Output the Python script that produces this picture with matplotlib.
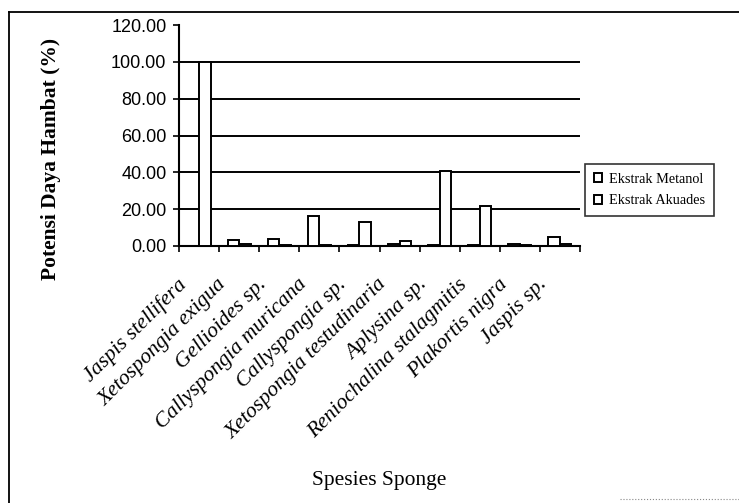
import matplotlib
matplotlib.use("Agg")
import matplotlib.pyplot as plt
import numpy as np
from matplotlib.lines import Line2D
from matplotlib.transforms import ScaledTranslation

# --------- Data ---------
species = [
    "Jaspis stellifera",
    "Xetospongia exigua",
    "Gellioides sp.",
    "Callyspongia muricana",
    "Callyspongia sp.",
    "Xetospongia testudinaria",
    "Aplysina sp.",
    "Reniochalina stalagmitis",
    "Plakortis nigra",
    "Jaspis sp.",
]
metanol = [0.0, 3.0, 4.0, 16.4, 0.5, 1.0, 0.5, 0.5, 1.2, 4.8]
akuades = [100.0, 1.0, 0.3, 0.3, 13.1, 2.5, 40.5, 21.5, 0.3, 1.2]
y_ticks = [0, 20, 40, 60, 80, 100, 120]

W, H = 739, 503
fig = plt.figure(figsize=(W / 100, H / 100), dpi=100)
ax = fig.add_axes([179 / W, 1 - 246 / H, (580 - 179) / W, (246 - 25) / H])

x = np.arange(len(species))
bw = 1 / 3.5
ax.bar(x - bw / 2, metanol, bw, color="white", edgecolor="black", linewidth=1.4,
       label="Ekstrak Metanol", zorder=3)
ax.bar(x + bw / 2, akuades, bw, color="white", edgecolor="black", linewidth=1.4,
       label="Ekstrak Akuades", zorder=3)

ax.set_xlim(-0.5, len(species) - 0.5)
ax.set_ylim(0, 120)

# gridlines (no line at 120)
for v in y_ticks[1:-1]:
    ax.axhline(v, color="black", linewidth=1.4, zorder=1)

for s in ["top", "right"]:
    ax.spines[s].set_visible(False)
for s in ["left", "bottom"]:
    ax.spines[s].set_linewidth(1.5)

ax.set_yticks(y_ticks)
ax.set_yticklabels([f"{v:.2f}" for v in y_ticks], family="Liberation Sans", fontsize=13)
ax.tick_params(axis="y", direction="out", length=4, width=1.2, pad=5)

ax.set_xticks(x)
ax.set_xticks(np.arange(-0.5, len(species), 1), minor=True)
ax.tick_params(axis="x", which="major", length=0, pad=0)
ax.tick_params(axis="x", which="minor", direction="out", length=4, width=1.2)
ax.set_xticklabels(species, rotation=45, ha="right", va="top", rotation_mode="anchor",
                   family="Liberation Serif", style="italic", fontsize=15.7)
off = ScaledTranslation(-22 / 100, -29 / 100, fig.dpi_scale_trans)
for lab in ax.get_xticklabels():
    lab.set_transform(lab.get_transform() + off)

ax.set_ylabel("Potensi Daya Hambat (%)", family="Liberation Serif", fontweight="bold",
              fontsize=15.5, va="center")
ax.yaxis.set_label_coords(-0.318, 0.394)
ax.set_xlabel("Spesies Sponge", family="Liberation Serif", fontsize=15.5, va="center")
ax.xaxis.set_label_coords(0.5, -1.059)

leg = ax.legend(loc="upper left", bbox_to_anchor=(585 / W, 1 - 164 / H),
                bbox_transform=fig.transFigure, frameon=True, fancybox=False,
                edgecolor="black", handlelength=0.6, handleheight=0.6,
                handletextpad=0.5, borderpad=0.6, labelspacing=0.6, borderaxespad=0,
                prop={"family": "Liberation Serif", "size": 10.3})
leg.get_frame().set_linewidth(1.2)

# outer chart frame
fig.add_artist(Line2D([9 / W, 9 / W], [0, 1 - 12 / H], transform=fig.transFigure,
                      color="black", linewidth=1.3))
fig.add_artist(Line2D([9 / W, 1], [1 - 12 / H, 1 - 12 / H], transform=fig.transFigure,
                      color="black", linewidth=1.3))
fig.add_artist(Line2D([620 / W, 1], [1 - 499 / H, 1 - 499 / H], transform=fig.transFigure,
                      color="#888888", linewidth=0.8, linestyle=":"))

fig.savefig("out.png", dpi=100)
